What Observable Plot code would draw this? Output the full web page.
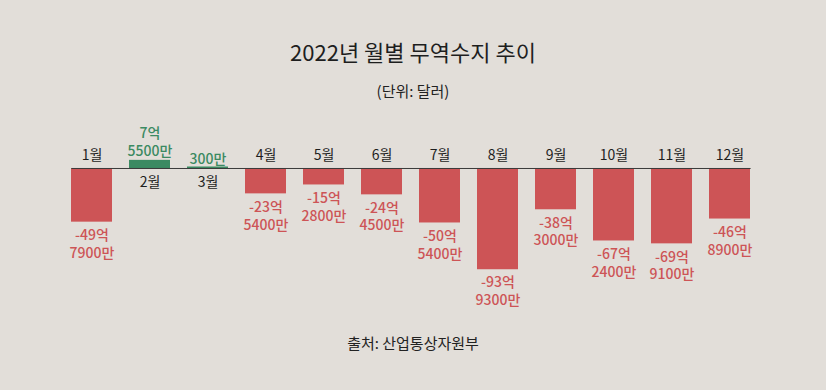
<!DOCTYPE html>
<html>
<head>
<meta charset="utf-8">
<script src="https://cdn.jsdelivr.net/npm/d3@7"></script>
<script src="https://cdn.jsdelivr.net/npm/@observablehq/plot@0.6"></script>
<style>
  html, body { margin: 0; padding: 0; background: #e2ded9; }
  body { width: 826px; height: 390px; overflow: hidden; font-family: "Noto Sans CJK KR", "Noto Sans", sans-serif; color: #1e1e1e; }
  .title { margin-top: 36px; height: 30px; line-height: 30px; text-align: center; font-size: 22px; }
  .subtitle { margin-top: 15px; height: 20px; line-height: 20px; text-align: center; font-size: 15px; color: #222; }
  #chart { margin-top: 9px; height: 220px; }
  #chart svg { display: block; }
  .caption { margin-top: 3px; height: 20px; line-height: 20px; text-align: center; font-size: 15px; color: #222; }
</style>
</head>
<body>
<div class="title">2022년 월별 무역수지 추이</div>
<div class="subtitle">(단위: 달러)</div>
<div id="chart"></div>
<div class="caption">출처: 산업통상자원부</div>
<script>
// Monthly trade balance, in 만 달러 (10,000 USD)
const months = ["1월", "2월", "3월", "4월", "5월", "6월", "7월", "8월", "9월", "10월", "11월", "12월"];
const balances = [-497900, 75500, 300, -235400, -152800, -244500, -505400, -939300, -383000, -672400, -699100, -468900];

const RED = "#cd5456";
const GREEN = "#3b8a62";

function label(v) {
  const a = Math.abs(v);
  const eok = Math.floor(a / 10000);
  const man = a % 10000;
  const sign = v < 0 ? "-" : "";
  if (eok === 0) return sign + man + "만";
  return sign + eok + "억" + (man ? "\n" + man + "만" : "");
}

const data = months.map((m, i) => ({ month: m, value: balances[i] / 10000, raw: balances[i], label: label(balances[i]) }));
const neg = data.filter(d => d.value < 0);
const pos = data.filter(d => d.value >= 0);

const chart = Plot.plot({
  width: 826,
  height: 220,
  marginTop: 0,
  marginBottom: 0,
  marginLeft: 71.4,
  marginRight: 75.4,
  style: { background: "transparent", fontFamily: "'Noto Sans CJK KR', sans-serif" },
  x: { domain: months, paddingInner: 0.29, paddingOuter: 0, axis: null },
  y: { domain: [-150.3, 53.8], axis: null },
  marks: [
    Plot.barY(data, { x: "month", y: "value", fill: d => d.value < 0 ? RED : GREEN }),
    Plot.tickY(pos, { x: "month", y: 0, stroke: GREEN, strokeWidth: 2, dy: -1 }),
    Plot.ruleY([0], { stroke: "#3a3a3a", strokeWidth: 1 }),
    Plot.text(neg, { x: "month", y: 0, text: "month", dy: -13, fontSize: 14, fill: "#1e1e1e" }),
    Plot.text(pos, { x: "month", y: 0, text: "month", dy: 14, fontSize: 14, fill: "#1e1e1e" }),
    Plot.text(neg, { x: "month", y: "value", text: "label", lineAnchor: "top", dy: 5, lineHeight: 1.28, fontSize: 14, fontWeight: 500, fill: RED }),
    Plot.text(pos, { x: "month", y: "value", text: "label", lineAnchor: "bottom", dy: -4, lineHeight: 1.28, fontSize: 14, fontWeight: 500, fill: GREEN })
  ]
});
document.getElementById("chart").appendChild(chart);
</script>
</body>
</html>
